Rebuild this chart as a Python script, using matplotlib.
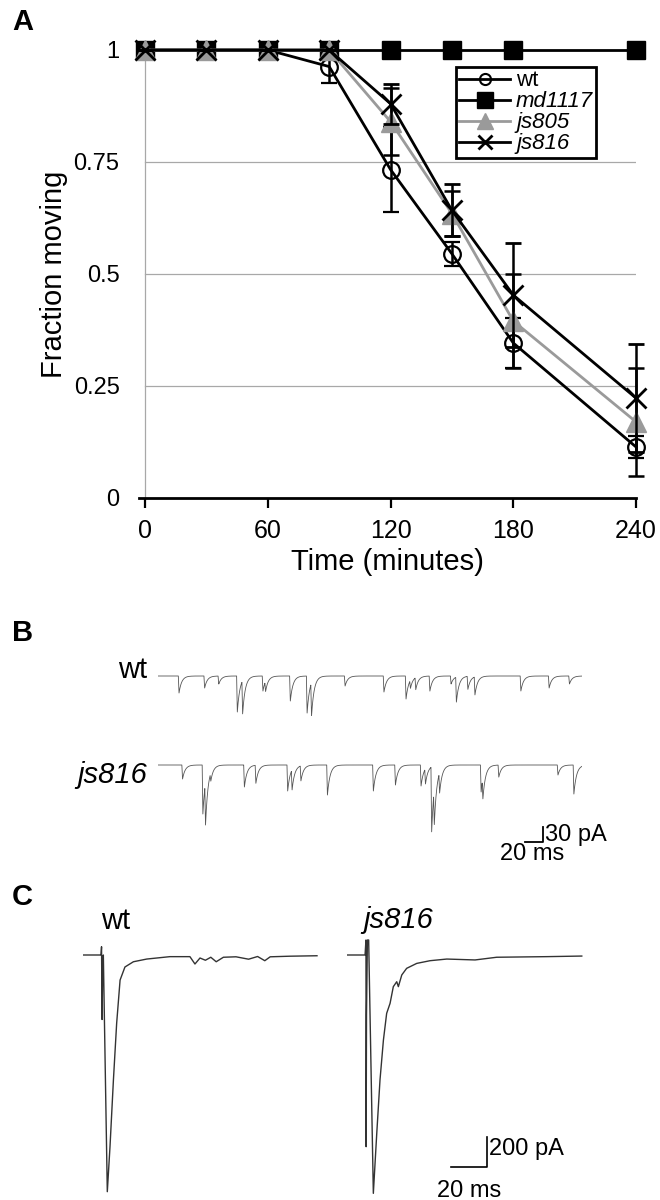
import numpy as np
import matplotlib
matplotlib.use("Agg")
import matplotlib.pyplot as plt
from matplotlib.lines import Line2D

# ---------------------------------------------------------
# Data
# ---------------------------------------------------------
times = [0, 30, 60, 90, 120, 150, 180, 240]
wt = [1, 1, 1, 0.963, 0.733, 0.545, 0.346, 0.114]
wt_err = [0, 0, 0, 0.037, 0.095, 0.027, 0.055, 0.025]
md1117 = [1, 1, 1, 1, 1, 1, 1, 1]
js805 = [1, 1, 1, 1, 0.84, 0.635, 0.395, 0.17]
js805_err = [0, 0, 0, 0, 0.075, 0.05, 0.105, 0.12]
js816 = [1, 1, 1, 1, 0.88, 0.642, 0.453, 0.223]
js816_err = [0, 0, 0, 0, 0.045, 0.058, 0.117, 0.121]

y_ticks = [0, 0.25, 0.5, 0.75, 1]
y_ticklabels = ["0", "0.25", "0.5", "0.75", "1"]
x_ticks = [0, 60, 120, 180, 240]

# panel B: spontaneous minis, event time (ms) and amplitude (pA)
wt_mini_t = [23, 52, 68, 89, 95, 118, 121, 149, 168, 173, 211, 255, 280, 285,
             291, 307, 331, 337, 350, 358, 410, 442, 465]
wt_mini_amp = [34, 24, 16, 72, 66, 30, 20, 50, 74, 66, 20, 32, 46, 16,
               24, 30, 16, 50, 26, 36, 30, 24, 16]
js816_mini_t = [27, 50, 53, 59, 97, 110, 146, 151, 161, 191, 243, 268, 297,
                302, 309, 312, 318, 365, 367, 385, 452, 470]
js816_mini_amp = [28, 98, 84, 16, 44, 36, 52, 40, 30, 60, 52, 40, 42,
                  30, 130, 70, 40, 54, 40, 24, 20, 58]
mini_sweep_ms = 480

# panel C: evoked currents, time (ms) and current (pA)
wt_evoked_t = [0, 10.0, 10.3, 10.6, 10.9, 11.3, 13.5, 15.0, 16.9, 18.7, 20.6,
               23.3, 28.0, 35.4, 48.3, 59.4, 62.2, 65.0, 68.0, 71.0, 74.0,
               78.0, 85.0, 92.0, 97.0, 101.0, 104.0, 115.0, 130.0]
wt_evoked_pA = [0, 0, 55, -430, -100, 0, -1578, -1278, -833, -455, -167,
                -80, -45, -27, -11, -11, -60, -20, -35, -15, -45,
                -15, -12, -28, -10, -38, -12, -8, -5]
js816_evoked_t = [0, 10.2, 10.7, 10.8, 11.0, 11.5, 12.2, 14.8, 16.7, 18.5,
                  20.4, 22.2, 24.1, 25.9, 27.8, 28.7, 30.6, 33.3, 38.9, 46.3,
                  55.6, 71.3, 83.3, 111.0, 130.6]
js816_evoked_pA = [0, 0, 100, -1278, -400, 100, 100, -1589, -1189, -833,
                   -567, -389, -322, -211, -178, -211, -133, -89, -56, -38,
                   -27, -33, -15, -11, -7]

W, H = 660, 1200


def px_axes(fig, left, top, width, height):
    """Add axes placed by pixel box (top-left origin)."""
    return fig.add_axes([left / W, 1 - (top + height) / H, width / W, height / H])


def mini_trace(t, ev_t, ev_amp, rise=0.8, decay=3.0):
    y = np.zeros_like(t)
    for t0, a in zip(ev_t, ev_amp):
        dt = t - t0
        shape = np.where(dt < 0, 0.0,
                         np.where(dt < rise, dt / rise, np.exp(-(dt - rise) / decay)))
        y -= a * shape
    return y


fig = plt.figure(figsize=(W / 100, H / 100), dpi=100)
sans = ["Liberation Sans", "DejaVu Sans"]

# =========================================================
# Panel A
# =========================================================
axA = px_axes(fig, 139, 50, 497, 448)
axA.set_xlim(-3, 240)
axA.set_ylim(0, 1)
for s in ["top", "right", "left"]:
    axA.spines[s].set_visible(False)
axA.spines["bottom"].set_linewidth(2)
axA.set_xticks(x_ticks)
axA.set_xticklabels([str(v) for v in x_ticks], family=sans, fontsize=18)
axA.set_yticks(y_ticks)
axA.set_yticklabels(y_ticklabels, family=sans, fontsize=17)
axA.tick_params(axis="x", direction="out", length=7, width=1.6, pad=8)
axA.tick_params(axis="y", length=0, pad=14)
for v in y_ticks[1:-1]:
    axA.plot([0, 240], [v, v], color="#a8a8a8", lw=0.9, zorder=1)
axA.plot([0, 0], [0, 1], color="#a8a8a8", lw=0.9, zorder=1)

axA.plot(times, md1117, "-s", color="black", lw=2, ms=13.5, mfc="black",
         mec="black", clip_on=False, zorder=3)
axA.errorbar(times, wt, yerr=wt_err, fmt="-o", color="black", lw=2, ms=12,
             mfc="none", mec="black", mew=1.6, capsize=6, capthick=1.8,
             elinewidth=1.8, clip_on=False, zorder=4)
axA.errorbar(times, js805, yerr=js805_err, fmt="none", ecolor="black",
             capsize=6, capthick=1.8, elinewidth=1.8, clip_on=False, zorder=4)
axA.plot(times, js805, "-^", color="#9a9a9a", lw=2, ms=15, mfc="#9a9a9a",
         mec="#9a9a9a", clip_on=False, zorder=5)
axA.errorbar(times, js816, yerr=js816_err, fmt="-x", color="black", lw=2,
             ms=15, mew=2, capsize=6, capthick=1.8, elinewidth=1.8,
             clip_on=False, zorder=6)

axA.set_xlabel("Time (minutes)", family=sans, fontsize=21, labelpad=4)
axA.set_ylabel("Fraction moving", family=sans, fontsize=21, labelpad=4)

handles = [
    Line2D([], [], color="black", lw=2, marker="o", ms=8, mfc="none", mew=1.5),
    Line2D([], [], color="black", lw=2, marker="s", ms=12, mfc="black"),
    Line2D([], [], color="#9a9a9a", lw=2, marker="^", ms=12, mfc="#9a9a9a",
           mec="#9a9a9a"),
    Line2D([], [], color="black", lw=2, marker="x", ms=10, mew=2),
]
leg = fig.legend(handles, ["wt", "md1117", "js805", "js816"],
                 loc="upper left", bbox_to_anchor=(456 / W, 1 - 67 / H),
                 bbox_transform=fig.transFigure, fancybox=False,
                 framealpha=1, edgecolor="black", handlelength=2.3,
                 handletextpad=0.25, labelspacing=0.0, borderpad=0.15,
                 borderaxespad=0, prop={"family": sans, "size": 16})
leg.get_frame().set_linewidth(2)
for i, txt in enumerate(leg.get_texts()):
    if i > 0:
        txt.set_style("italic")

# =========================================================
# Panel B
# =========================================================
t_mini = np.arange(0, mini_sweep_ms, 0.1)
axB1 = px_axes(fig, 158, 671, 424, 45)
axB1.plot(t_mini, mini_trace(t_mini, wt_mini_t, wt_mini_amp),
          color="#555555", lw=0.6)
axB1.set_xlim(0, mini_sweep_ms)
axB1.set_ylim(-80, 10)
axB1.axis("off")

axB2 = px_axes(fig, 158, 760, 424, 75)
axB2.plot(t_mini, mini_trace(t_mini, js816_mini_t, js816_mini_amp),
          color="#555555", lw=0.6)
axB2.set_xlim(0, mini_sweep_ms)
axB2.set_ylim(-140, 10)
axB2.axis("off")
# scale bar 20 ms / 30 pA
axB2.plot([416, 436, 436], [-154, -154, -124], color="black", lw=1.3,
          clip_on=False)
axB2.text(438, -139, "30 pA", family=sans, fontsize=17, va="center",
          ha="left", clip_on=False)
axB2.text(423, -178, "20 ms", family=sans, fontsize=17, va="center",
          ha="center", clip_on=False)

fig.text(147 / W, 1 - 670 / H, "wt", family=sans, fontsize=21,
         ha="right", va="center")
fig.text(147 / W, 1 - 775 / H, "js816", family=sans, fontsize=21,
         style="italic", ha="right", va="center")

# =========================================================
# Panel C
# =========================================================
c_px_per_ms = 1.8
c_px_per_pA = 0.15
c_top_pA, c_bot_pA = 120, -1620
c_h = (c_top_pA - c_bot_pA) * c_px_per_pA
c_top = 955 - c_top_pA * c_px_per_pA

axC1 = px_axes(fig, 83, c_top, 131 * c_px_per_ms, c_h)
axC1.plot(wt_evoked_t, wt_evoked_pA, color="#333333", lw=1.0)
axC1.set_xlim(0, 131)
axC1.set_ylim(c_bot_pA, c_top_pA)
axC1.axis("off")

axC2 = px_axes(fig, 346.7, c_top, 131 * c_px_per_ms, c_h)
axC2.plot(js816_evoked_t, js816_evoked_pA, color="#333333", lw=1.0)
axC2.set_xlim(0, 131)
axC2.set_ylim(c_bot_pA, c_top_pA)
axC2.axis("off")
# scale bar 20 ms / 200 pA
axC2.plot([58, 78, 78], [-1413, -1413, -1213], color="black", lw=1.2,
          clip_on=False)
axC2.text(79, -1290, "200 pA", family=sans, fontsize=17, va="center",
          ha="left", clip_on=False)
axC2.text(68, -1575, "20 ms", family=sans, fontsize=17, va="center",
          ha="center", clip_on=False)

fig.text(116 / W, 1 - 921 / H, "wt", family=sans, fontsize=21,
         ha="center", va="center")
fig.text(398 / W, 1 - 920 / H, "js816", family=sans, fontsize=21,
         style="italic", ha="center", va="center")

# panel letters
for lab, y in [("A", 22), ("B", 633), ("C", 897)]:
    fig.text(12 / W, 1 - y / H, lab, family=sans, fontsize=21,
             weight="bold", ha="left", va="center")

fig.savefig("out.png", dpi=100)
